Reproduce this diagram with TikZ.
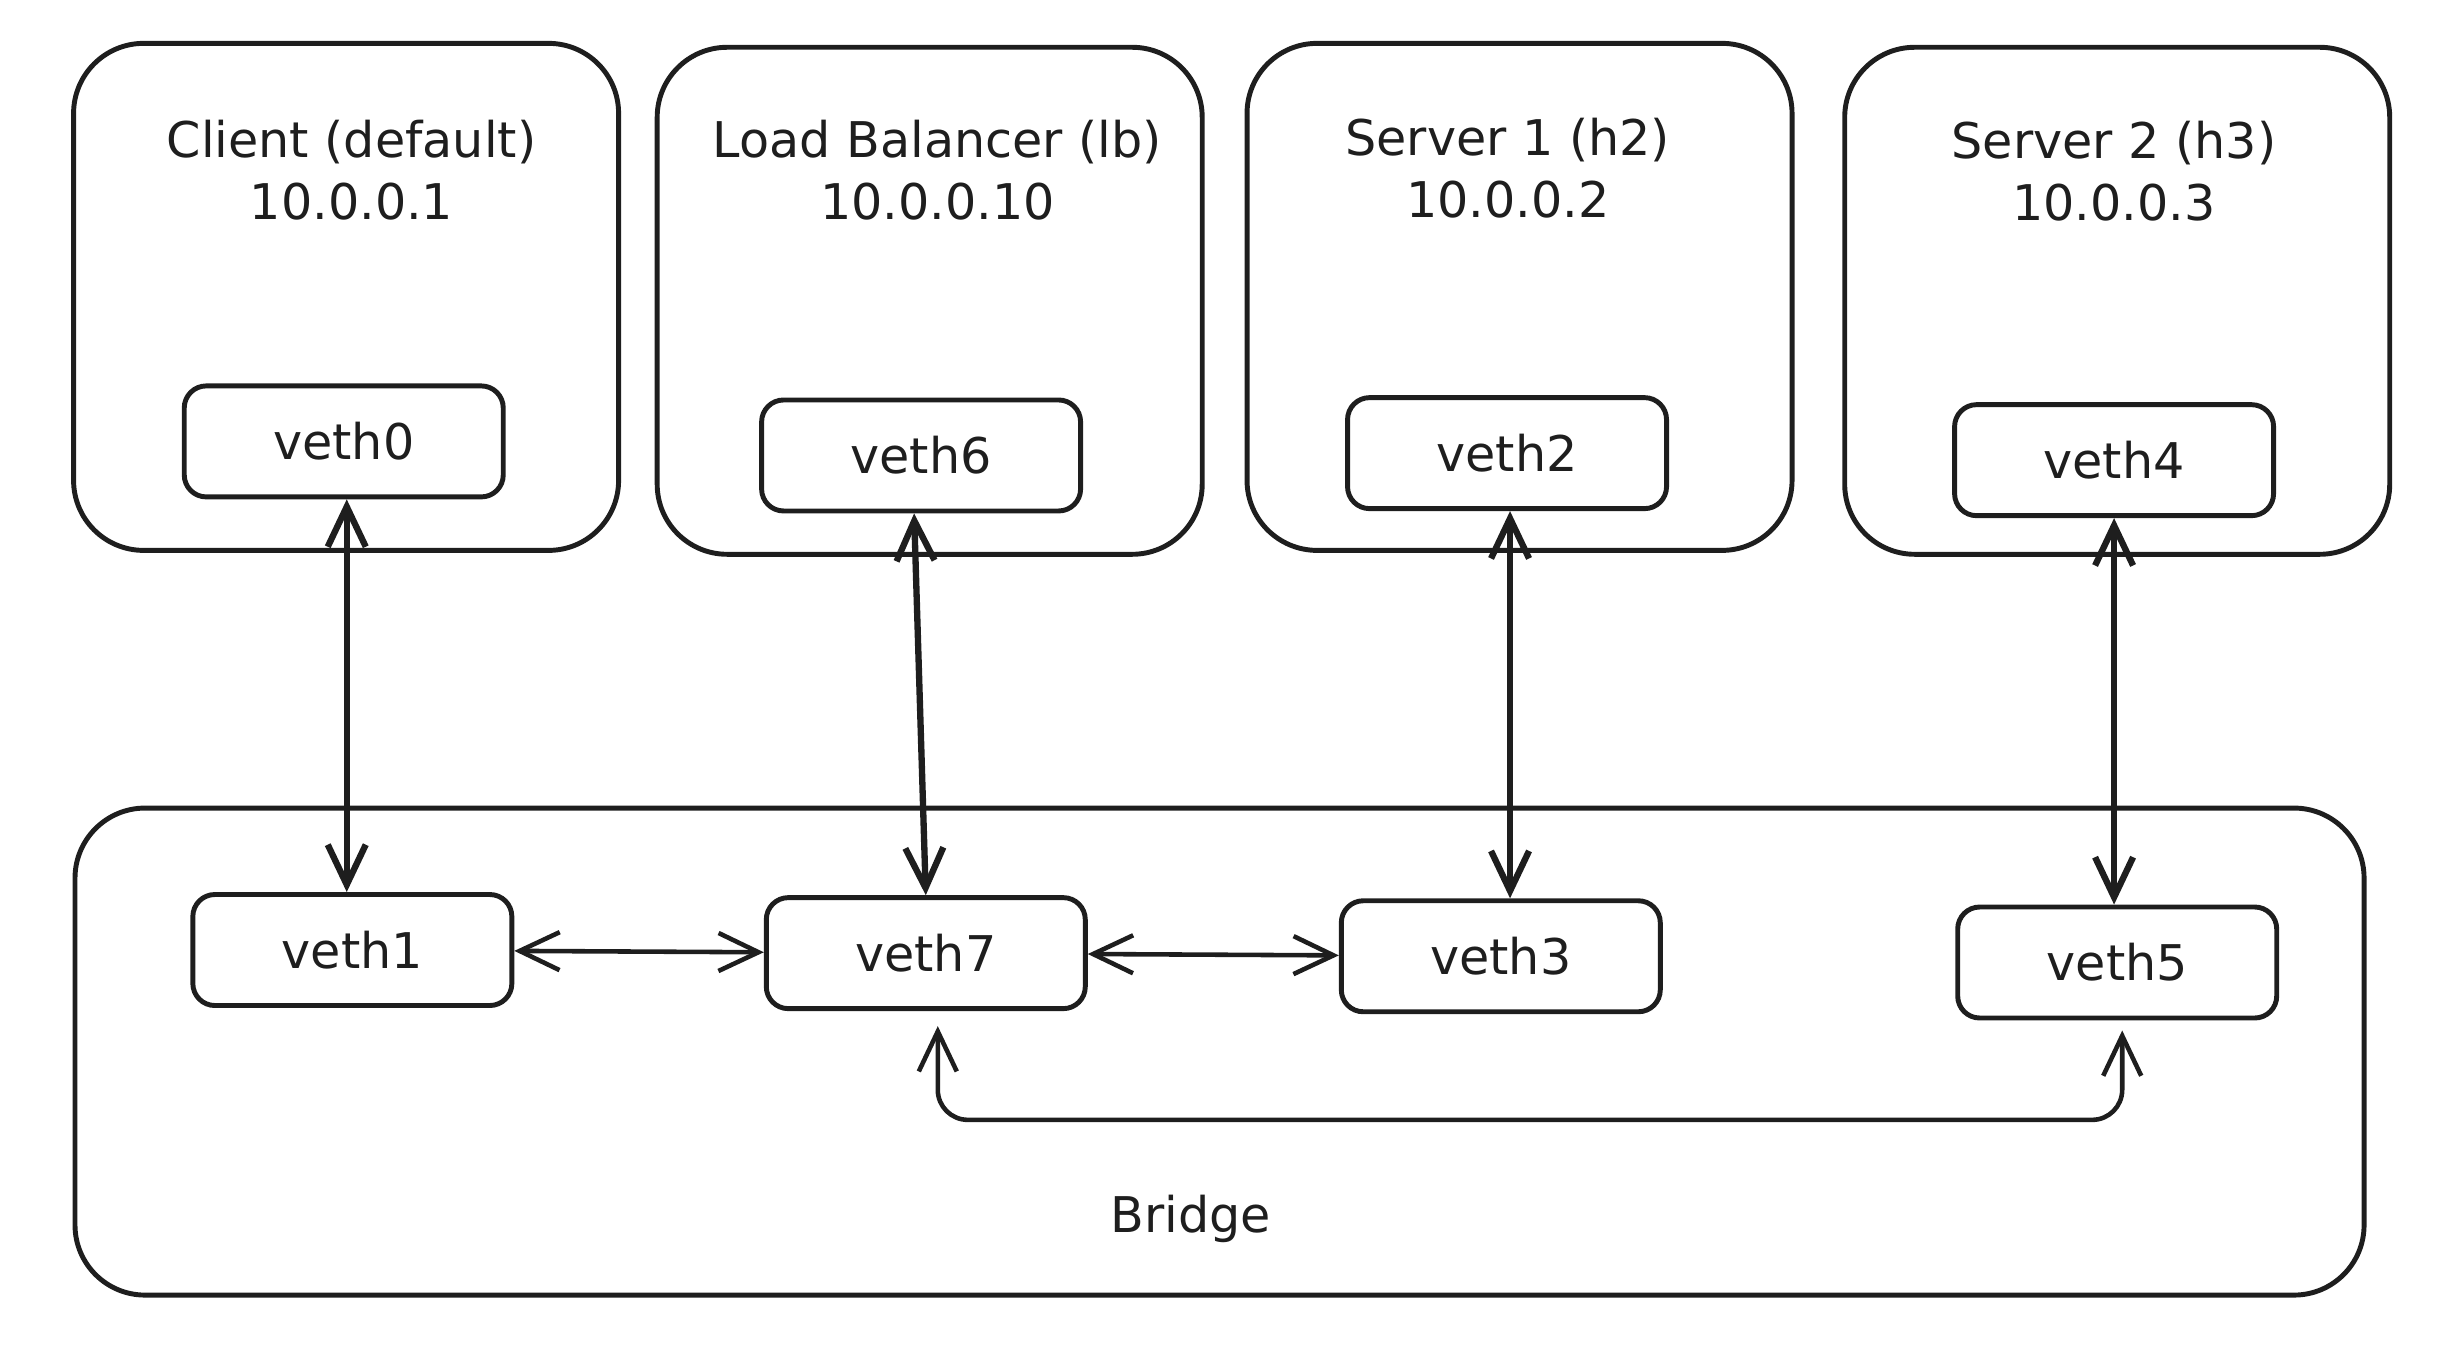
\documentclass[tikz,border=0pt]{standalone}
\usepackage{fontspec}
\setmainfont{DejaVu Sans}
\usepackage{xcolor}
\usepackage{tikz}
\usetikzlibrary{arrows.meta,positioning,calc}
\definecolor{ink}{HTML}{1E1E1E}
\tikzstyle{host} = [draw=ink,line width=1.4pt,rounded corners=0.7cm,minimum width=5.45cm,minimum height=5.07cm]
\tikzstyle{bridge} = [draw=ink,line width=1.4pt,rounded corners=0.7cm,minimum width=22.89cm,minimum height=4.87cm]
\tikzstyle{iface} = [draw=ink,line width=1.4pt,rounded corners=0.22cm,minimum width=3.19cm,minimum height=1.11cm,font=\fontsize{14}{17}\selectfont]
\tikzstyle{hostlabel} = [align=center,font=\fontsize{14}{17.5}\selectfont]
\tikzstyle{link} = [line width=1.3pt,<->,>={Straight Barb[length=0.4cm,width=0.38cm]}]
\tikzstyle{vlink} = [link,line width=1.8pt]

\begin{document}
\begin{tikzpicture}[x=0.015625cm,y=-0.015625cm,color=ink]
          % canvas
          \useasboundingbox (0,0) rectangle (1568,861);
          % namespaces
          \node[host] (client) at (221.5,190) {};
          \node[host] (lb) at (595,192.5) {};
          \node[host] (srv1) at (972.5,190) {};
          \node[host] (srv2) at (1355,192.5) {};
          \node[hostlabel] (client-t) at (225,109) {Client (default)\\10.0.0.1};
          \node[hostlabel] (lb-t) at (600,109) {Load Balancer (lb)\\10.0.0.10};
          \node[hostlabel] (srv1-t) at (965,107.5) {Server 1 (h2)\\10.0.0.2};
          \node[hostlabel] (srv2-t) at (1353,109.5) {Server 2 (h3)\\10.0.0.3};
          % bridge
          \node[bridge] (br) at (780.5,673) {};
          \node[hostlabel] (br-t) at (762,780) {Bridge};
          % interfaces
          \node[iface] (veth0) at (220,282.5) {veth0};
          \node[iface] (veth6) at (589.5,291.5) {veth6};
          \node[iface] (veth2) at (964.5,290) {veth2};
          \node[iface] (veth4) at (1353,294.5) {veth4};
          \node[iface] (veth1) at (225.5,608) {veth1};
          \node[iface] (veth7) at (592.5,610) {veth7};
          \node[iface] (veth3) at (960.5,612) {veth3};
          \node[iface] (veth5) at (1355,616) {veth5};
          % links
          \draw[vlink] ([xshift=0.03cm]veth0.south) -- ([xshift=0.03cm]veth0.south |- veth1.north);
          \draw[vlink] ([xshift=-0.07cm]veth6.south) -- (veth7.north);
          \draw[vlink] ([xshift=0.03cm]veth2.south) -- ([xshift=0.03cm]veth2.south |- veth3.north);
          \draw[vlink] (veth4.south) -- (veth4.south |- veth5.north);
          \draw[link] (veth1) -- (veth7);
          \draw[link] (veth7) -- (veth3);
          \draw[link,rounded corners=0.3cm] ([xshift=0.12cm,yshift=-0.15cm]veth7.south) -- ++(0,60) -| ([xshift=0.05cm,yshift=-0.1cm]veth5.south);
\end{tikzpicture}
\end{document}
